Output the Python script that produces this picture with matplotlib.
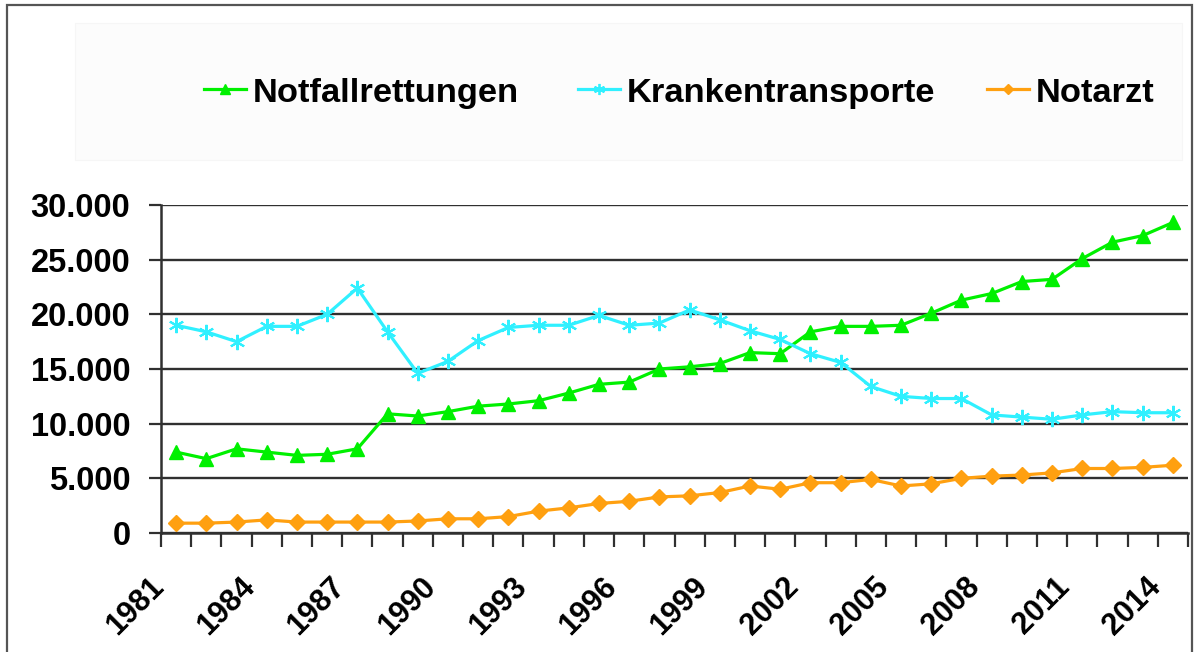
import matplotlib
matplotlib.use("Agg")
import matplotlib.pyplot as plt
from matplotlib.lines import Line2D
from matplotlib.patches import Rectangle
from matplotlib.ticker import FixedLocator, FuncFormatter
from matplotlib.transforms import ScaledTranslation

plt.rcParams['font.family'] = ['Liberation Sans', 'DejaVu Sans']
plt.rcParams['font.weight'] = 'bold'

years = list(range(1981, 2015))
notfall = [7400, 6800, 7700, 7400, 7100, 7200, 7700, 10900, 10700, 11100, 11600, 11800,
           12100, 12800, 13600, 13800, 15000, 15200, 15500, 16500, 16400, 18400, 18900,
           18900, 19000, 20100, 21300, 21900, 23000, 23200, 25100, 26600, 27200, 28400]
kranken = [19000, 18400, 17500, 18900, 18900, 20000, 22400, 18400, 14600, 15700, 17600, 18800,
           19000, 19000, 19900, 19000, 19200, 20400, 19500, 18500, 17700, 16400, 15600,
           13400, 12500, 12300, 12300, 10800, 10600, 10400, 10800, 11100, 11000, 11000]
notarzt = [900, 900, 1000, 1200, 1000, 1000, 1000, 1000, 1100, 1300, 1300, 1500,
           2000, 2300, 2700, 2900, 3300, 3400, 3700, 4300, 4000, 4600, 4600,
           4900, 4300, 4500, 5000, 5200, 5300, 5500, 5900, 5900, 6000, 6200]
labels = ["Notfallrettungen", "Krankentransporte", "Notarzt"]
label_years = list(range(1981, 2015, 3))
yticks = [0, 5000, 10000, 15000, 20000, 25000, 30000]

c_green = '#00F000'
c_cyan = '#30F0FF'
c_orange = '#FFA010'
c_axis = '#303030'

W, H = 1196, 652
fig = plt.figure(figsize=(W / 100, H / 100), dpi=100)

# figure frame
fig.patches.append(Rectangle((7 / W, -0.05), (1192 - 7) / W, 1.05 - 5 / H,
                             transform=fig.transFigure, fill=False,
                             edgecolor='#555555', linewidth=1.6))
# faint legend area
fig.patches.append(Rectangle((75 / W, 1 - 160 / H), (1182 - 75) / W, (160 - 23) / H,
                             transform=fig.transFigure, facecolor='#fcfcfc',
                             edgecolor='#f6f6f6', linewidth=0.8))

left, right = 161 / W, 1188 / W
bottom, top = 1 - 533 / H, 1 - 205 / H
ax = fig.add_axes([left, bottom, right - left, top - bottom])

x = list(range(len(years)))
ax.plot(x, notfall, color=c_green, lw=2.3, marker='^', ms=10, mec=c_green, mfc=c_green, zorder=4)
ax.plot(x, kranken, color=c_cyan, lw=2.3, marker=(6, 2, 0), ms=11, mec=c_cyan, mew=1.5, zorder=4)
ax.plot(x, notarzt, color=c_orange, lw=2.3, marker='D', ms=8, mec=c_orange, mfc=c_orange, zorder=4)

ax.set_xlim(-0.5, len(years) - 0.5)
ax.set_ylim(0, 30000)

for s in ['top', 'right']:
    ax.spines[s].set_visible(False)
for s in ['left', 'bottom']:
    ax.spines[s].set_color(c_axis)
    ax.spines[s].set_linewidth(1.8)

ax.yaxis.set_major_locator(FixedLocator(yticks))
ax.yaxis.set_major_formatter(FuncFormatter(lambda v, p: f"{int(v):,}".replace(",", ".")))
ax.yaxis.grid(True, color=c_axis, linewidth=1.7)
ax.set_axisbelow(True)
ax.tick_params(axis='y', direction='out', length=9, width=1.6, color=c_axis,
               labelsize=23.5, pad=13)

ax.xaxis.set_minor_locator(FixedLocator([i - 0.5 for i in range(len(years) + 1)]))
ax.set_xticks([years.index(y) for y in label_years])
ax.set_xticklabels([str(y) for y in label_years])
ax.tick_params(axis='x', which='minor', direction='out', length=10, width=1.6, color=c_axis)
ax.tick_params(axis='x', which='major', length=0, labelsize=22, pad=28)
off = ScaledTranslation(-0.06, 0, fig.dpi_scale_trans)
for lab in ax.get_xticklabels():
    lab.set_rotation(45)
    lab.set_ha('right')
    lab.set_va('top')
    lab.set_fontweight('bold')
    lab.set_transform(lab.get_transform() + off)
for lab in ax.get_yticklabels():
    lab.set_fontweight('bold')

# legend entries, placed like the original
handles = [Line2D([], [], color=c_green, lw=2.3, marker='^', ms=7, mfc=c_green, mec=c_green),
           Line2D([], [], color=c_cyan, lw=2.3, marker=(6, 2, 0), ms=8, mec=c_cyan, mew=1.3),
           Line2D([], [], color=c_orange, lw=2.3, marker='D', ms=5, mfc=c_orange, mec=c_orange)]
xs = [204, 578, 987]
for h, lab, xp in zip(handles, labels, xs):
    fig.legend([h], [lab], loc='center left', bbox_to_anchor=(xp / W, 1 - 93 / H),
               frameon=False, borderpad=0, borderaxespad=0, handlelength=1.22,
               handletextpad=0.2, prop={'size': 24.8, 'weight': 'bold'})

fig.savefig('out.png', dpi=100)
